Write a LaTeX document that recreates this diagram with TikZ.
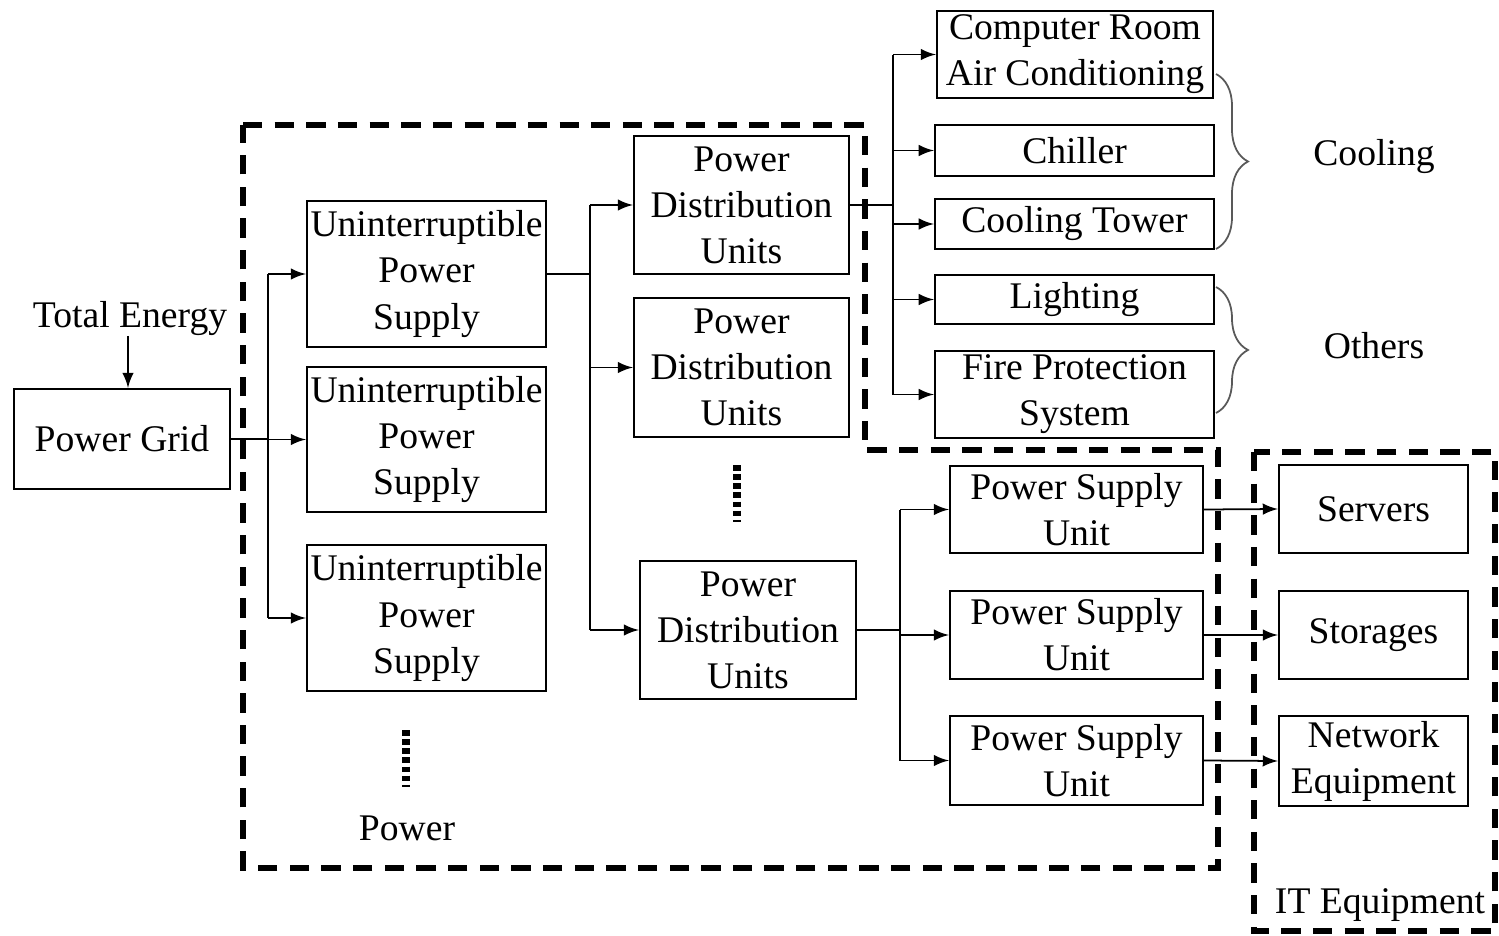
\documentclass[tikz,border=0pt]{standalone}
\usepackage{fontspec}
\setmainfont{Liberation Serif}
\usetikzlibrary{decorations.pathreplacing}

\begin{document}
\begin{tikzpicture}[
    x=0.01cm, y=-0.01cm,
    caja/.style={rectangle, draw=black, line width=0.6pt, align=center, inner sep=0pt, font=\fontsize{10.7}{13.1}\selectfont},
    texto/.style={align=center, inner sep=0pt, font=\fontsize{10.7}{13.1}\selectfont},
    zona/.style={line width=1.8pt, dash pattern=on 5.5pt off 3.5pt},
    puntos/.style={line width=2.2pt, dash pattern=on 1.6pt off 1pt},
    llave/.style={decorate, decoration={brace, amplitude=0.32cm}, gray!70!black, line width=0.5pt},
    linea/.style={line width=0.5pt},
    flujo/.style={-latex, line width=0.5pt},
]
\useasboundingbox (0,0) rectangle (1499,936);

% zonas punteadas
\draw [zona] (243,125) -- (865,125) -- (865,450) -- (1218,450) -- (1218,868) -- (243,868) -- cycle;
\draw [zona] (1254,452) rectangle (1495,931);

\node (energy) [texto] at (130,318) {Total Energy};
\node (grid) [caja, minimum width=2.16cm, minimum height=1.00cm] at (122,439) {Power Grid};

\node (ups1) [caja, minimum width=2.39cm, minimum height=1.46cm] at (426.5,274) {Uninterruptible\\ Power\\ Supply};
\node (ups2) [caja, minimum width=2.39cm, minimum height=1.45cm] at (426.5,439.5) {Uninterruptible\\ Power\\ Supply};
\node (ups3) [caja, minimum width=2.39cm, minimum height=1.46cm] at (426.5,618) {Uninterruptible\\ Power\\ Supply};

\node (pdu1) [caja, minimum width=2.15cm, minimum height=1.38cm] at (741.5,205) {Power\\ Distribution\\ Units};
\node (pdu2) [caja, minimum width=2.15cm, minimum height=1.39cm] at (741.5,367.5) {Power\\ Distribution\\ Units};
\node (pdu3) [caja, minimum width=2.16cm, minimum height=1.38cm] at (748,630) {Power\\ Distribution\\ Units};

\node (crac) [caja, minimum width=2.76cm, minimum height=0.87cm] at (1075,54.5) {Computer Room\\ Air Conditioning};
\node (chiller) [caja, minimum width=2.79cm, minimum height=0.51cm] at (1074.5,150.5) {Chiller};
\node (tower) [caja, minimum width=2.79cm, minimum height=0.50cm] at (1074.5,224) {Cooling Tower};
\node (light) [caja, minimum width=2.79cm, minimum height=0.49cm] at (1074.5,299.5) {Lighting};
\node (fire) [caja, minimum width=2.79cm, minimum height=0.87cm] at (1074.5,394.5) {Fire Protection\\ System};

\node (psu1) [caja, minimum width=2.53cm, minimum height=0.87cm] at (1076.5,509.5) {Power Supply\\ Unit};
\node (psu2) [caja, minimum width=2.53cm, minimum height=0.88cm] at (1076.5,635) {Power Supply\\ Unit};
\node (psu3) [caja, minimum width=2.53cm, minimum height=0.89cm] at (1076.5,760.5) {Power Supply\\ Unit};

\node (servers) [caja, minimum width=1.89cm, minimum height=0.88cm] at (1373.5,509) {Servers};
\node (storages) [caja, minimum width=1.89cm, minimum height=0.88cm] at (1373.5,635) {Storages};
\node (network) [caja, minimum width=1.89cm, minimum height=0.90cm] at (1373.5,761) {Network\\ Equipment};

\node (cooling) [texto] at (1374,157) {Cooling};
\node (others) [texto] at (1374,346) {Others};
\node (powerlbl) [texto] at (407,828) {Power};
\node (itlbl) [texto] at (1380,905) {IT Equipment};

% puntos suspensivos
\draw [puntos] (737,465) -- (737,522);
\draw [puntos] (406,730) -- (406,787);

% llaves
\draw [llave] (1216,74) -- (1216,249);
\draw [llave] (1216,287) -- (1216,413);

% conexiones
\coordinate (j1) at (268,439);
\coordinate (j2) at (590,274);
\coordinate (j3) at (893,205);
\coordinate (j4) at (900,630);

\draw [flujo] (energy.south -| 128,0) -- (grid.north -| 128,0);

\draw [linea] (grid.east) -- (j1);
\draw [linea] (j1 |- ups1.west) -- (j1 |- ups3.west);
\foreach \n in {ups1,ups2,ups3}
    \draw [flujo] (j1 |- \n.west) -- (\n.west);

\draw [linea] (ups1.east) -- (j2);
\draw [linea] (j2 |- pdu1.west) -- (j2 |- pdu3.west);
\foreach \n in {pdu1,pdu2,pdu3}
    \draw [flujo] (j2 |- \n.west) -- (\n.west);

\draw [linea] (pdu1.east) -- (j3);
\draw [linea] (j3 |- crac.west) -- (j3 |- fire.west);
\foreach \n in {crac,chiller,tower,light,fire}
    \draw [flujo] (j3 |- \n.west) -- (\n.west);

\draw [linea] (pdu3.east) -- (j4);
\draw [linea] (j4 |- psu1.west) -- (j4 |- psu3.west);
\foreach \n in {psu1,psu2,psu3}
    \draw [flujo] (j4 |- \n.west) -- (\n.west);

\draw [flujo] (psu1.east) -- (servers.west);
\draw [flujo] (psu2.east) -- (storages.west);
\draw [flujo] (psu3.east) -- (network.west);

\end{tikzpicture}
\end{document}
